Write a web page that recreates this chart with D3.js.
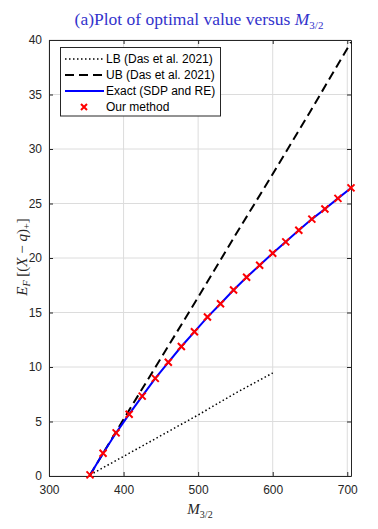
<!DOCTYPE html>
<html>
<head>
<meta charset="utf-8">
<script src="https://cdn.jsdelivr.net/npm/d3@7"></script>
<style>
body { margin: 0; background: #fff; }
svg text { font-family: "Liberation Sans", Arial, sans-serif; }
.serif { font-family: "Liberation Serif", "DejaVu Serif", serif; }
</style>
</head>
<body>
<svg width="378" height="529"></svg>
<script>
// values
var mValues = [355, 372.5, 390, 407.5, 425, 442.5, 460, 477.5, 495, 512.5, 530,
  547.5, 565, 582.5, 600, 617.5, 635, 652.5, 670, 687.5, 705];
var exactValues = [0.1, 2.08, 3.96, 5.67, 7.33, 8.96, 10.43, 11.88, 13.23, 14.58, 15.8,
  17.06, 18.23, 19.33, 20.44, 21.48, 22.55, 23.57, 24.49, 25.47, 26.43];
var ourValues = exactValues;
var lbM = [355, 400, 450, 500, 550, 600];
var lbValues = [0.1, 1.8, 3.7, 5.6, 7.6, 9.45];
var ubM = [355, 400, 450, 500, 550, 600, 650, 705];
var ubValues = [0.1, 5.2, 10.8, 16.4, 22.1, 27.7, 33.4, 39.8];
var xTicks = [300, 400, 500, 600, 700];
var yTicks = [0, 5, 10, 15, 20, 25, 30, 35, 40];
var legendLabels = ["LB (Das et al. 2021)", "UB (Das et al. 2021)", "Exact (SDP and RE)", "Our method"];

var svg = d3.select("svg");
var pLeft = 49, pRight = 351, pTop = 40, pBottom = 476;

var xScale = d3.scaleLinear().domain([300, 705]).range([pLeft, pRight]);
var yScale = d3.scaleLinear().domain([0, 40]).range([pBottom, pTop]);

// grid
var grid = svg.append("g");
grid.selectAll(".gx").data(xTicks).enter().append("line")
  .attr("x1", d => xScale(d)).attr("x2", d => xScale(d))
  .attr("y1", pTop).attr("y2", pBottom)
  .style("stroke", "#dcdcdc").style("stroke-width", 1);
grid.selectAll(".gy").data(yTicks).enter().append("line")
  .attr("x1", pLeft).attr("x2", pRight)
  .attr("y1", d => yScale(d)).attr("y2", d => yScale(d))
  .style("stroke", "#dcdcdc").style("stroke-width", 1);

// axes
var xAxis = svg.append("g")
  .attr("transform", "translate(0," + pBottom + ")")
  .call(d3.axisBottom(xScale).tickValues(xTicks).tickSizeInner(-4).tickSizeOuter(0).tickPadding(9));
var xAxisTop = svg.append("g")
  .attr("transform", "translate(0," + pTop + ")")
  .call(d3.axisTop(xScale).tickValues(xTicks).tickSizeInner(-4).tickSizeOuter(0).tickFormat(""));
var yAxis = svg.append("g")
  .attr("transform", "translate(" + pLeft + ",0)")
  .call(d3.axisLeft(yScale).tickValues(yTicks).tickSizeInner(-4).tickSizeOuter(0).tickPadding(7));
var yAxisRight = svg.append("g")
  .attr("transform", "translate(" + pRight + ",0)")
  .call(d3.axisRight(yScale).tickValues(yTicks).tickSizeInner(-4).tickSizeOuter(0).tickFormat(""));

[xAxis, xAxisTop, yAxis, yAxisRight].forEach(function(a) {
  a.select(".domain").style("stroke", "#262626").style("stroke-width", 1);
  a.selectAll(".tick line").style("stroke", "#262626");
  a.selectAll("text").style("font-family", "Liberation Sans, Arial, sans-serif")
    .style("font-size", "12px").style("fill", "#262626");
});

var line = d3.line().x(d => xScale(d[0])).y(d => yScale(d[1]));

svg.append("path")
  .datum(d3.zip(lbM, lbValues))
  .attr("d", line)
  .style("fill", "none").style("stroke", "#000").style("stroke-width", 1.5)
  .style("stroke-dasharray", "1.5,2.5");

svg.append("path")
  .datum(d3.zip(ubM, ubValues))
  .attr("d", line)
  .style("fill", "none").style("stroke", "#000").style("stroke-width", 2)
  .style("stroke-dasharray", "9,5");

svg.append("path")
  .datum(d3.zip(mValues, exactValues))
  .attr("d", line)
  .style("fill", "none").style("stroke", "#0000ff").style("stroke-width", 2);

var cross = function(sel, s) {
  sel.append("path")
    .attr("d", "M" + (-s) + "," + (-s) + "L" + s + "," + s + "M" + (-s) + "," + s + "L" + s + "," + (-s))
    .style("stroke", "#ff0000").style("stroke-width", 2).style("fill", "none");
};

svg.selectAll(".mark")
  .data(d3.zip(mValues, ourValues))
  .enter().append("g")
  .attr("class", "mark")
  .attr("transform", d => "translate(" + xScale(d[0]) + "," + yScale(d[1]) + ")")
  .each(function() { cross(d3.select(this), 3.5); });

// legend
var lg = svg.append("g");
lg.append("rect").attr("x", 60.5).attr("y", 47.5).attr("width", 160).attr("height", 68.5)
  .style("fill", "#fff").style("stroke", "#262626").style("stroke-width", 1);
var rows = lg.selectAll(".row").data(legendLabels).enter().append("g")
  .attr("transform", (d, i) => "translate(0," + (59 + i * 16) + ")");
rows.append("text").attr("x", 106).attr("y", 4).text(d => d)
  .style("font-size", "12px").style("fill", "#000");
rows.each(function(d, i) {
  var r = d3.select(this);
  if (i == 0) r.append("line").attr("x1", 65).attr("x2", 104).style("stroke", "#000")
    .style("stroke-width", 1.5).style("stroke-dasharray", "1.5,2.5");
  if (i == 1) r.append("line").attr("x1", 65).attr("x2", 104).style("stroke", "#000")
    .style("stroke-width", 2).style("stroke-dasharray", "9,5");
  if (i == 2) r.append("line").attr("x1", 65).attr("x2", 104).style("stroke", "#0000ff")
    .style("stroke-width", 2);
  if (i == 3) cross(r.append("g").attr("transform", "translate(84,0)"), 3);
});

// title and labels
var title = svg.append("text").attr("class", "serif")
  .attr("x", 199).attr("y", 25).attr("text-anchor", "middle")
  .style("font-size", "17.5px").style("fill", "#3333cc");
title.append("tspan").text("(a)Plot of optimal value versus ");
title.append("tspan").style("font-style", "italic").text("M");
title.append("tspan").attr("dy", 4).style("font-size", "11px").text("3/2");

var xl = svg.append("text").attr("class", "serif")
  .attr("x", 200).attr("y", 514).attr("text-anchor", "middle")
  .style("font-size", "15px").style("fill", "#262626");
xl.append("tspan").style("font-style", "italic").text("M");
xl.append("tspan").attr("dy", 4).style("font-size", "10px").text("3/2");

var yl = svg.append("text").attr("class", "serif")
  .attr("transform", "translate(27,257) rotate(-90)")
  .attr("text-anchor", "middle")
  .style("font-size", "15px").style("fill", "#262626");
yl.append("tspan").style("font-style", "italic").text("E");
yl.append("tspan").attr("dy", 3).style("font-size", "10px").style("font-style", "italic").text("F");
yl.append("tspan").attr("dy", -3).text(" [(");
yl.append("tspan").style("font-style", "italic").text("X");
yl.append("tspan").text(" \u2212 ");
yl.append("tspan").style("font-style", "italic").text("q");
yl.append("tspan").text(")");
yl.append("tspan").attr("dy", 3).style("font-size", "10px").text("+");
yl.append("tspan").attr("dy", -3).text("]");
</script>
</body>
</html>
